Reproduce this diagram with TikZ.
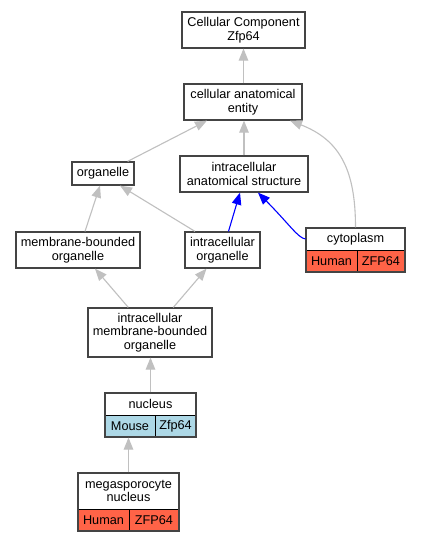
\documentclass[tikz,border=0pt]{standalone}
\usepackage{fontspec}
\setmainfont{Liberation Sans}
\usetikzlibrary{arrows.meta}
\definecolor{edgegray}{HTML}{C0C0C0}
\definecolor{boxborder}{HTML}{444444}
\definecolor{human}{HTML}{FF6347}
\definecolor{mouse}{HTML}{ADD8E6}
\tikzset{
  lbl/.style={font=\fontsize{12.7}{13.5}\selectfont},
  box/.style={lbl, draw=boxborder, line width=1.2pt, fill=white, inner sep=0pt, align=center},
  cell/.style={lbl, draw=black, line width=0.9pt, inner sep=0pt, align=center},
  outer/.style={draw=boxborder, line width=1.2pt, inner sep=0pt},
  edge/.style={draw=edgegray, line width=1.1pt, -{Triangle[length=12pt,width=9.5pt]}},
  blueedge/.style={draw=blue, line width=1.1pt, -{Triangle[length=12pt,width=9.5pt]}}
}
\begin{document}
\begin{tikzpicture}[x=1pt,y=-1pt]
\useasboundingbox[fill=white] (0,0) rectangle (421,541);
% plain nodes
\node[box, minimum width=123pt, minimum height=36pt] (cc) at (243.5,30) {Cellular Component\\Zfp64};
\node[box, minimum width=118pt, minimum height=36pt] (cae) at (243,102) {cellular anatomical\\entity};
\node[box, minimum width=62pt, minimum height=23pt] (org) at (103,173.5) {organelle};
\node[box, minimum width=128pt, minimum height=36pt] (ias) at (244,174) {intracellular\\anatomical structure};
\node[box, minimum width=124pt, minimum height=36pt] (mbo) at (78,250) {membrane-bounded\\organelle};
\node[box, minimum width=75pt, minimum height=36pt] (io) at (222.5,250) {intracellular\\organelle};
\node[box, minimum width=124pt, minimum height=49pt] (imbo) at (150,332.5) {intracellular\\membrane-bounded\\organelle};
% cytoplasm record
\node[cell, fill=white, minimum width=99pt, minimum height=22pt] (cytohead) at (355.5,239) {cytoplasm};
\node[cell, fill=human, minimum width=51pt, minimum height=22pt] (cytohu) at (331.5,261) {Human};
\node[cell, fill=human, minimum width=48pt, minimum height=22pt] (cytozf) at (381,261) {ZFP64};
\node[outer, minimum width=99pt, minimum height=44pt] (cyto) at (355.5,250) {};
% nucleus record
\node[cell, fill=white, minimum width=91pt, minimum height=22.5pt] (nuchead) at (150.5,404.25) {nucleus};
\node[cell, fill=mouse, minimum width=50pt, minimum height=21.5pt] (nucmo) at (130,426.25) {Mouse};
\node[cell, fill=mouse, minimum width=41pt, minimum height=21.5pt] (nuczf) at (175.5,426.25) {Zfp64};
\node[outer, minimum width=91pt, minimum height=44pt] (nuc) at (150.5,415) {};
% megasporocyte record
\node[cell, fill=white, minimum width=101pt, minimum height=36pt] (megahead) at (128.5,491) {megasporocyte\\nucleus};
\node[cell, fill=human, minimum width=51pt, minimum height=22pt] (megahu) at (103.5,520) {Human};
\node[cell, fill=human, minimum width=50pt, minimum height=22pt] (megazf) at (154,520) {ZFP64};
\node[outer, minimum width=101pt, minimum height=58pt] (mega) at (128.5,502) {};
% edges
\draw[edge] ([xshift=0.5pt]cae.north) -- ([xshift=0.5pt]cae.north |- cc.south);
\draw[edge] ([xshift=-7pt]org.north east) -- ([xshift=-36pt]cae.south);
\draw[edge] (ias.north) -- (ias.north |- cae.south);
\draw[edge] (cyto.north) .. controls (355.5,170) and (340,140) .. ([xshift=47pt]cae.south);
\draw[edge] ([xshift=7pt]mbo.north) -- ([xshift=-3pt]org.south);
\draw[edge] ([xshift=-27.5pt]io.north) -- ([xshift=17pt]org.south);
\draw[blueedge] ([xshift=6pt]io.north) -- ([xshift=-4pt]ias.south);
\draw[blueedge] (cytohead.west) .. controls (298,238) and (290,225) .. ([xshift=14pt]ias.south);
\draw[edge] ([xshift=-21.7pt]imbo.north) -- ([xshift=17pt]mbo.south);
\draw[edge] ([xshift=23.3pt]imbo.north) -- ([xshift=-16pt]io.south);
\draw[edge] (nuc.north) -- (nuc.north |- imbo.south);
\draw[edge] (mega.north) -- (mega.north |- nuc.south);
\end{tikzpicture}
\end{document}
